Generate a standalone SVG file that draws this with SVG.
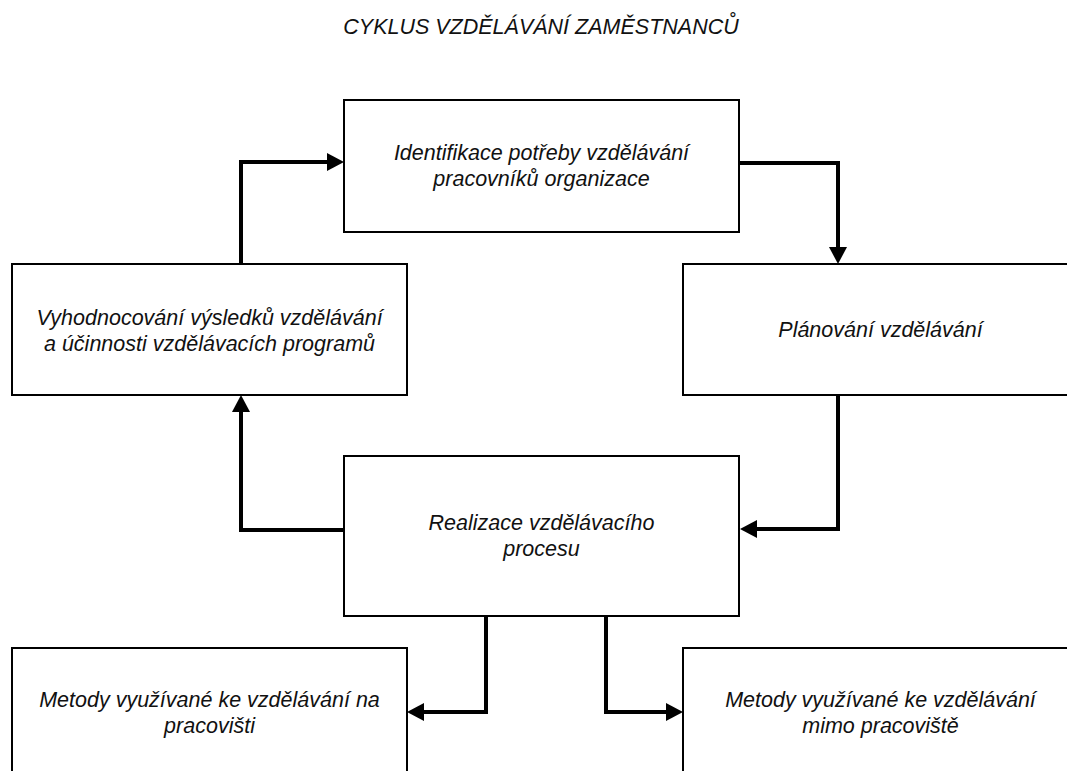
<svg xmlns="http://www.w3.org/2000/svg" width="1067" height="771" viewBox="0 0 1067 771">
<style>
.box{fill:#fff;stroke:#000;stroke-width:2}
.t{font-family:"Liberation Sans",Arial,sans-serif;font-style:italic;font-size:21.5px;fill:#111;text-anchor:middle}
.c{fill:none;stroke:#000;stroke-width:4;marker-end:url(#ah)}
</style>
<defs>
<marker id="ah" markerUnits="userSpaceOnUse" markerWidth="17" markerHeight="18" viewBox="0 0 17 18" refX="0" refY="9" orient="auto">
<path d="M0,0 L17,9 L0,18 Z" fill="#000"/>
</marker>
</defs>
<rect width="1067" height="771" fill="#fff"/>
<text class="t" x="541" y="34">CYKLUS VZDĚLÁVÁNÍ ZAMĚSTNANCŮ</text>
<g id="n1">
<rect class="box" x="344" y="100" width="395" height="132"/>
<text class="t" x="541.5" y="160">Identifikace potřeby vzdělávání</text>
<text class="t" x="541.5" y="186">pracovníků organizace</text>
</g>
<g id="n2">
<rect class="box" x="12" y="264" width="395" height="131"/>
<text class="t" x="209.5" y="325">Vyhodnocování výsledků vzdělávání</text>
<text class="t" x="209.5" y="351">a účinnosti vzdělávacích programů</text>
</g>
<g id="n3">
<rect class="box" x="683" y="264" width="395" height="131"/>
<text class="t" x="880.5" y="337">Plánování vzdělávání</text>
</g>
<g id="n4">
<rect class="box" x="344" y="456" width="395" height="160"/>
<text class="t" x="541.5" y="530">Realizace vzdělávacího</text>
<text class="t" x="541.5" y="556">procesu</text>
</g>
<g id="n5">
<rect class="box" x="12" y="648" width="395" height="130"/>
<text class="t" x="209.5" y="707">Metody využívané ke vzdělávání na</text>
<text class="t" x="209.5" y="733">pracovišti</text>
</g>
<g id="n6">
<rect class="box" x="683" y="648" width="395" height="130"/>
<text class="t" x="880.5" y="707">Metody využívané ke vzdělávání</text>
<text class="t" x="880.5" y="733">mimo pracoviště</text>
</g>
<g id="connectors">
<path class="c" d="M241,264 V162 H327"/>
<path class="c" d="M739,163 H838 V247"/>
<path class="c" d="M838,395 V529 H757"/>
<path class="c" d="M344,530 H241 V412"/>
<path class="c" d="M486,616 V712 H424"/>
<path class="c" d="M606,616 V712 H666"/>
</g>
</svg>
